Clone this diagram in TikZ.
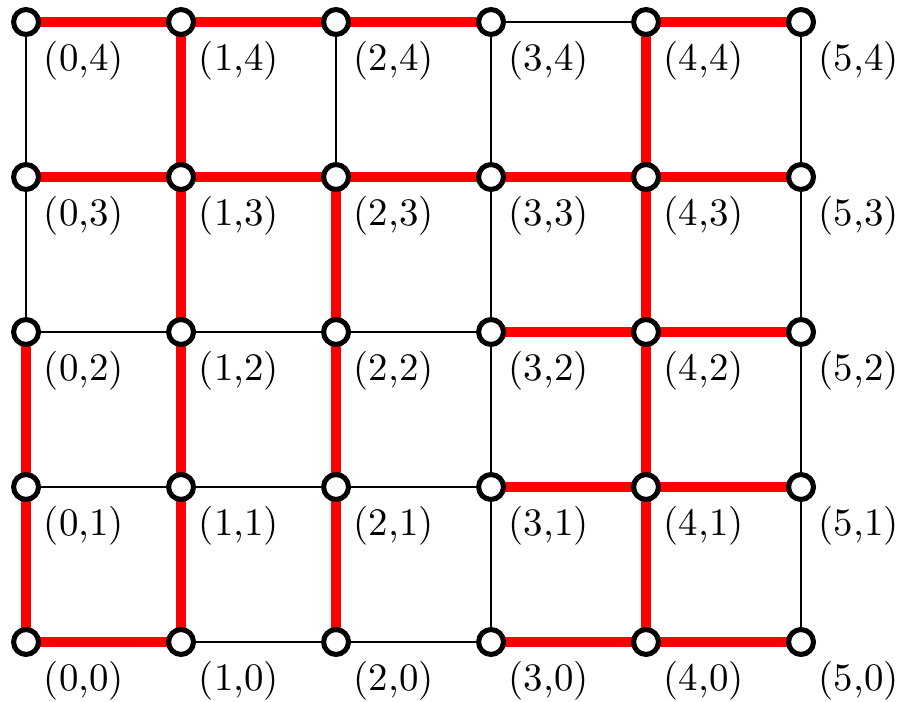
\documentclass[tikz,border=0pt]{standalone}
\usetikzlibrary{calc}
\pgfdeclarelayer{background}
\pgfsetlayers{background,main}

\begin{document}
\begin{tikzpicture}[
  x=1.4cm, y=1.4cm,
  vtx/.style={circle, draw=black, fill=white, line width=1.3pt,
    minimum size=6.4pt, inner sep=0pt},
  thinedge/.style={black, line width=0.3pt},
  redge/.style={red, line width=2.6pt},
  lbl/.style={anchor=west, inner sep=0pt},
]
  \useasboundingbox (-0.168,-0.387) rectangle (5.645,4.142);

  % grid vertices and their labels
  \foreach \i in {0,...,5}
    \foreach \j in {0,...,4} {
      \node[vtx] (v\i\j) at (\i,\j) {};
      \node[lbl] (l\i\j) at ($(v\i\j)+(0.11,-0.252)$) {(\i,\j)};
    }

  \begin{pgfonlayer}{background}
    % all grid edges, thin
    \foreach \i in {0,...,5}
      \foreach \j [count=\k] in {0,...,3}
        \draw[thinedge] (v\i\j.center) -- (v\i\k.center);
    \foreach \j in {0,...,4}
      \foreach \i [count=\k] in {0,...,4}
        \draw[thinedge] (v\i\j.center) -- (v\k\j.center);

    % chosen edges, red
    \foreach \a/\b in {04/14, 14/24, 24/34, 44/54,
                       03/13, 13/23, 23/33, 33/43, 43/53,
                       32/42, 42/52, 31/41, 41/51,
                       00/10, 30/40, 40/50,
                       00/01, 01/02,
                       10/11, 11/12, 12/13, 13/14,
                       20/21, 21/22, 22/23,
                       40/41, 41/42, 42/43, 43/44}
      \draw[redge] (v\a.center) -- (v\b.center);
  \end{pgfonlayer}
\end{tikzpicture}
\end{document}
